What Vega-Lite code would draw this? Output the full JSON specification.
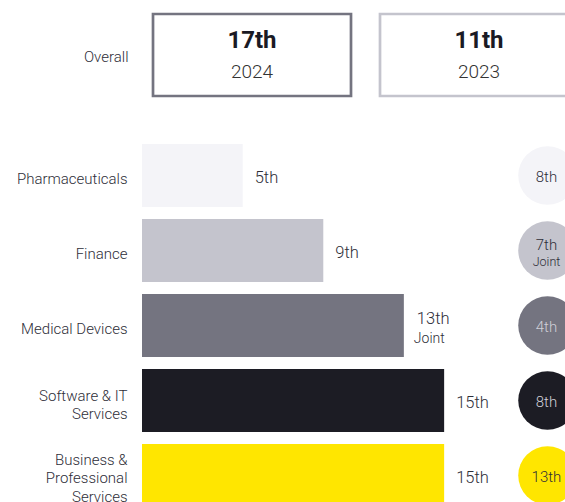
{
  "$schema": "https://vega.github.io/schema/vega-lite/v6.json",
  "padding": 0,
  "spacing": 22,
  "config": {"view": {"stroke": null}, "font": "Roboto"},
  "vconcat": [
    {
      "width": 423,
      "height": 110,
      "data": {"values": [
        {"scope": "Overall", "year": "2024", "rank": "17th"},
        {"scope": "Overall", "year": "2023", "rank": "11th"}
      ]},
      "encoding": {
        "y": {"field": "scope", "type": "nominal", "scale": {"paddingInner": 0, "paddingOuter": 0.1707},
          "axis": {"title": null, "domain": false, "ticks": false, "tickSize": 0, "labelPadding": 14, "labelOffset": 2, "labelFontSize": 15, "labelColor": "#2e2e38", "labelFont": "Roboto", "labelFontWeight": 300, "minExtent": 142, "maxExtent": 142}},
        "x": {"field": "year", "type": "nominal", "scale": {"domain": ["2024", "2023"], "range": [0, 447], "paddingInner": 0.1278, "paddingOuter": 0.0485}, "axis": null}
      },
      "layer": [
        {"mark": {"type": "rect", "fill": "white", "strokeWidth": 2.7, "clip": true},
         "encoding": {"stroke": {"field": "year", "type": "nominal", "scale": {"domain": ["2024", "2023"], "range": ["#747480", "#c4c4cd"]}, "legend": null}}},
        {"mark": {"type": "text", "fontSize": 24, "fontWeight": "bold", "color": "#1a1a24", "dy": -14},
         "encoding": {"text": {"field": "rank"}}},
        {"mark": {"type": "text", "fontSize": 19, "fontWeight": 300, "color": "#333333", "dy": 17},
         "encoding": {"text": {"field": "year"}}}
      ]
    },
    {
      "width": 423,
      "height": 370,
      "data": {"values": [
        {"sector": "Pharmaceuticals", "rank2024": 5, "label2024": "5th", "joint2024": false, "label2023": "8th", "joint2023": false},
        {"sector": "Finance", "rank2024": 9, "label2024": "9th", "joint2024": false, "label2023": "7th", "joint2023": true},
        {"sector": "Medical Devices", "rank2024": 13, "label2024": "13th", "joint2024": true, "label2023": "4th", "joint2023": false},
        {"sector": "Software & IT Services", "rank2024": 15, "label2024": "15th", "joint2024": false, "label2023": "8th", "joint2023": false},
        {"sector": "Business & Professional Services", "rank2024": 15, "label2024": "15th", "joint2024": false, "label2023": "13th", "joint2023": false}
      ]},
      "encoding": {
        "y": {"field": "sector", "type": "nominal", "sort": null,
          "scale": {"domain": ["Pharmaceuticals", "Finance", "Medical Devices", "Software & IT Services", "Business & Professional Services"], "range": [0, 387], "paddingInner": 0.16, "paddingOuter": 0.16},
          "axis": {"title": null, "domain": false, "ticks": false, "tickSize": 0, "labelPadding": 15, "labelFontSize": 15, "labelColor": "#2e2e38", "labelFont": "Roboto", "labelFontWeight": 300, "labelLineHeight": 18.6, "minExtent": 142, "maxExtent": 142,
            "labelOffset": {"condition": [{"test": "datum.value == 'Software & IT Services'", "value": -5}, {"test": "datum.value == 'Business & Professional Services'", "value": -16}], "value": 3},
            "labelExpr": "datum.value == 'Software & IT Services' ? ['Software & IT', 'Services'] : datum.value == 'Business & Professional Services' ? ['Business &', 'Professional', 'Services'] : datum.value"}}
      },
      "layer": [
        {"mark": {"type": "bar", "clip": true},
         "encoding": {
           "x": {"field": "rank2024", "type": "quantitative", "scale": {"domain": [0, 21]}, "axis": null},
           "color": {"field": "sector", "type": "nominal", "scale": {"domain": ["Pharmaceuticals", "Finance", "Medical Devices", "Software & IT Services", "Business & Professional Services"], "range": ["#f4f4f8", "#c4c4cd", "#747480", "#1c1c24", "#ffe600"]}, "legend": null}}},
        {"transform": [{"filter": "!datum.joint2024"}],
         "mark": {"type": "text", "align": "left", "dx": 12, "dy": 2, "fontSize": 16.5, "fontWeight": 300, "color": "#2e2e38"},
         "encoding": {
           "x": {"field": "rank2024", "type": "quantitative", "scale": {"domain": [0, 21]}, "axis": null},
           "text": {"field": "label2024"}}},
        {"transform": [{"filter": "datum.joint2024"}],
         "mark": {"type": "text", "align": "left", "dx": 13, "dy": -7, "fontSize": 16.5, "fontWeight": 300, "color": "#2e2e38"},
         "encoding": {
           "x": {"field": "rank2024", "type": "quantitative", "scale": {"domain": [0, 21]}, "axis": null},
           "text": {"field": "label2024"}}},
        {"transform": [{"filter": "datum.joint2024"}],
         "mark": {"type": "text", "align": "left", "dx": 10, "dy": 13, "fontSize": 14, "fontWeight": 300, "color": "#2e2e38"},
         "encoding": {
           "x": {"field": "rank2024", "type": "quantitative", "scale": {"domain": [0, 21]}, "axis": null},
           "text": {"value": "Joint"}}},
        {"mark": {"type": "circle", "opacity": 1, "size": 3420, "clip": true},
         "encoding": {
           "x": {"datum": "2023", "type": "ordinal", "scale": {"type": "point", "domain": ["2024", "2023"], "padding": 0.0216, "align": 0}, "axis": null},
           "color": {"field": "sector", "type": "nominal", "scale": {"domain": ["Pharmaceuticals", "Finance", "Medical Devices", "Software & IT Services", "Business & Professional Services"], "range": ["#f4f4f8", "#c4c4cd", "#747480", "#1c1c24", "#ffe600"]}, "legend": null}}},
        {"transform": [{"filter": "!datum.joint2023"}],
         "mark": {"type": "text", "dx": -1, "dy": 1, "fontSize": 15, "fontWeight": 300},
         "encoding": {
           "x": {"datum": "2023", "type": "ordinal", "scale": {"type": "point", "domain": ["2024", "2023"], "padding": 0.0216, "align": 0}, "axis": null},
           "text": {"field": "label2023"},
           "color": {"field": "sector", "type": "nominal", "scale": {"domain": ["Pharmaceuticals", "Finance", "Medical Devices", "Software & IT Services", "Business & Professional Services"], "range": ["#2e2e38", "#2e2e38", "#d0d0d8", "#d0d0d8", "#2e2e38"]}, "legend": null}}},
        {"transform": [{"filter": "datum.joint2023"}],
         "mark": {"type": "text", "dx": -1, "dy": -6, "fontSize": 15, "fontWeight": 300, "color": "#2e2e38"},
         "encoding": {
           "x": {"datum": "2023", "type": "ordinal", "scale": {"type": "point", "domain": ["2024", "2023"], "padding": 0.0216, "align": 0}, "axis": null},
           "text": {"field": "label2023"}}},
        {"transform": [{"filter": "datum.joint2023"}],
         "mark": {"type": "text", "dx": -1, "dy": 11, "fontSize": 12.5, "fontWeight": 300, "color": "#2e2e38"},
         "encoding": {
           "x": {"datum": "2023", "type": "ordinal", "scale": {"type": "point", "domain": ["2024", "2023"], "padding": 0.0216, "align": 0}, "axis": null},
           "text": {"value": "Joint"}}}
      ],
      "resolve": {"scale": {"x": "independent", "color": "independent"}}
    }
  ]
}
